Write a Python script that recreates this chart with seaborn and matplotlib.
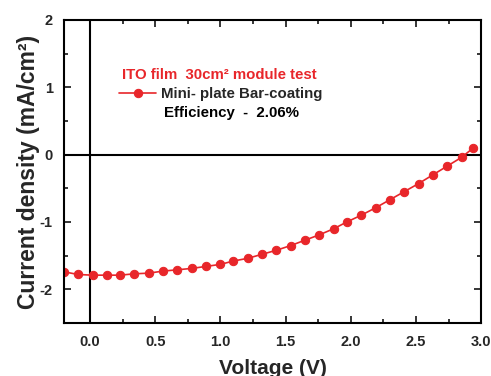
import numpy as np
import pandas as pd
import matplotlib
matplotlib.use('Agg')
import matplotlib.pyplot as plt
import seaborn as sns
from matplotlib.ticker import MultipleLocator

# J-V curve
voltage = [-0.20, -0.09, 0.02, 0.13, 0.23, 0.34, 0.45, 0.56, 0.67, 0.78,
           0.89, 1.00, 1.10, 1.21, 1.32, 1.43, 1.54, 1.65, 1.76, 1.87,
           1.97, 2.08, 2.19, 2.30, 2.41, 2.52, 2.63, 2.74, 2.85, 2.94]
current = [-1.74, -1.78, -1.79, -1.79, -1.79, -1.77, -1.76, -1.73, -1.71, -1.69,
           -1.66, -1.63, -1.58, -1.54, -1.48, -1.42, -1.35, -1.27, -1.19, -1.10,
           -1.00, -0.90, -0.79, -0.67, -0.55, -0.43, -0.30, -0.17, -0.04, 0.10]

series_label = 'Mini- plate Bar-coating'
title_text = 'ITO film  30cm² module test'
eff_text = 'Efficiency  -  2.06%'

df = pd.DataFrame({'V': voltage, 'J': current})

sns.set_style('ticks')
plt.rcParams['font.family'] = ['Liberation Sans', 'DejaVu Sans']
plt.rcParams['font.weight'] = 'bold'
plt.rcParams['axes.unicode_minus'] = False

red = '#e8262a'

fig = plt.figure(figsize=(4.91, 3.76), dpi=100)
ax = fig.add_axes([0.130, 0.141, 0.850, 0.806])

sns.lineplot(data=df, x='V', y='J', ax=ax, color=red, marker='o',
             markersize=6, markeredgecolor=red, linewidth=1.2, label=series_label)

ax.axhline(0, color='black', lw=1.5, zorder=1)
ax.axvline(0, color='black', lw=1.5, zorder=1)

ax.set_xlim(-0.2, 3.0)
ax.set_ylim(-2.5, 2.0)
ax.xaxis.set_minor_locator(MultipleLocator(0.25))
ax.yaxis.set_minor_locator(MultipleLocator(0.5))
ax.set_xticks([0, 0.5, 1.0, 1.5, 2.0, 2.5, 3.0])
ax.set_xticklabels(['0.0', '0.5', '1.0', '1.5', '2.0', '2.5', '3.0'])
ax.set_yticks([-2, -1, 0, 1, 2])
ax.set_yticklabels(['-2', '-1', '0', '1', '2'])

ax.tick_params(which='both', direction='in', top=True, right=True,
               labelsize=10.5, width=1.3)
ax.tick_params(axis='x', pad=9)
ax.tick_params(axis='y', pad=8)
ax.tick_params(which='major', length=5)
ax.tick_params(which='minor', length=3)
for s in ax.spines.values():
    s.set_linewidth(1.5)
    s.set_color('black')

ax.set_xlabel('Voltage (V)', fontsize=15, fontweight='bold', labelpad=7)
ax.set_ylabel('Current density (mA/cm²)', fontsize=16.5, fontweight='bold', labelpad=0)

ax.text(0.139, 0.818, title_text, transform=ax.transAxes, color=red,
        fontsize=10.8, fontweight='bold', va='center')
ax.legend(loc='center left', bbox_to_anchor=(0.132, 0.756), frameon=False,
          handlelength=2.5, handletextpad=0.3, borderpad=0, borderaxespad=0,
          prop={'size': 10.8, 'weight': 'bold'})
ax.text(0.240, 0.693, eff_text, transform=ax.transAxes, color='black',
        fontsize=10.8, fontweight='bold', va='center')

fig.savefig('out.png', dpi=100)
